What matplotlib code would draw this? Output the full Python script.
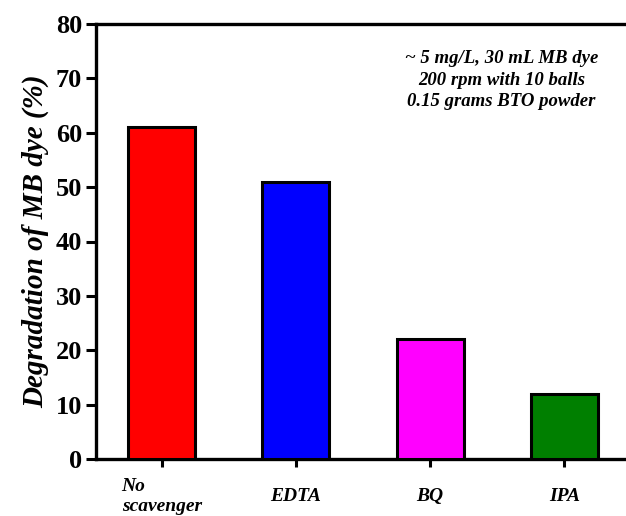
import matplotlib
matplotlib.use("Agg")
import matplotlib.pyplot as plt

categories = ["No\nscavenger", "EDTA", "BQ", "IPA"]
values = [61, 51, 22, 12]
colors = ["#FF0000", "#0000FF", "#FF00FF", "#007F00"]
yticks = [0, 10, 20, 30, 40, 50, 60, 70, 80]
note = "~ 5 mg/L, 30 mL MB dye\n200 rpm with 10 balls\n0.15 grams BTO powder"

plt.rcParams['font.family'] = ['Liberation Serif', 'DejaVu Serif']

fig = plt.figure(figsize=(6.26, 5.16), dpi=100)
ax = fig.add_axes([96/626, 57/516, 1 - 96/626, 435/516])

x = list(range(len(categories)))
ax.bar(x, values, width=0.5, color=colors, edgecolor='black', linewidth=2.2, zorder=3)

ax.set_xlim(-0.49, 3.46)
ax.set_ylim(0, 80)
ax.set_yticks(yticks)
ax.set_yticklabels([str(t) for t in yticks], fontsize=19, fontweight='bold')
ax.set_xticks(x)
ax.set_xticklabels(categories, fontsize=14, fontweight='bold', fontstyle='italic',
                   multialignment='left', linespacing=1.3)
for lab in ax.get_xticklabels():
    lab.set_verticalalignment('center')
ax.tick_params(axis='x', direction='out', length=6, width=2.2, pad=21)
ax.tick_params(axis='y', direction='out', length=7, width=2.2, pad=3)

for s in ['left', 'bottom', 'top']:
    ax.spines[s].set_linewidth(2.4)
ax.spines['right'].set_visible(False)

ax.set_ylabel("Degradation of MB dye (%)", fontsize=21, fontweight='bold',
              fontstyle='italic', labelpad=5)

ax.text(0.765, 0.94, note, transform=ax.transAxes, ha='center', va='top',
        fontsize=13.5, fontweight='bold', fontstyle='italic', linespacing=1.35)

fig.savefig("out.png", dpi=100)
